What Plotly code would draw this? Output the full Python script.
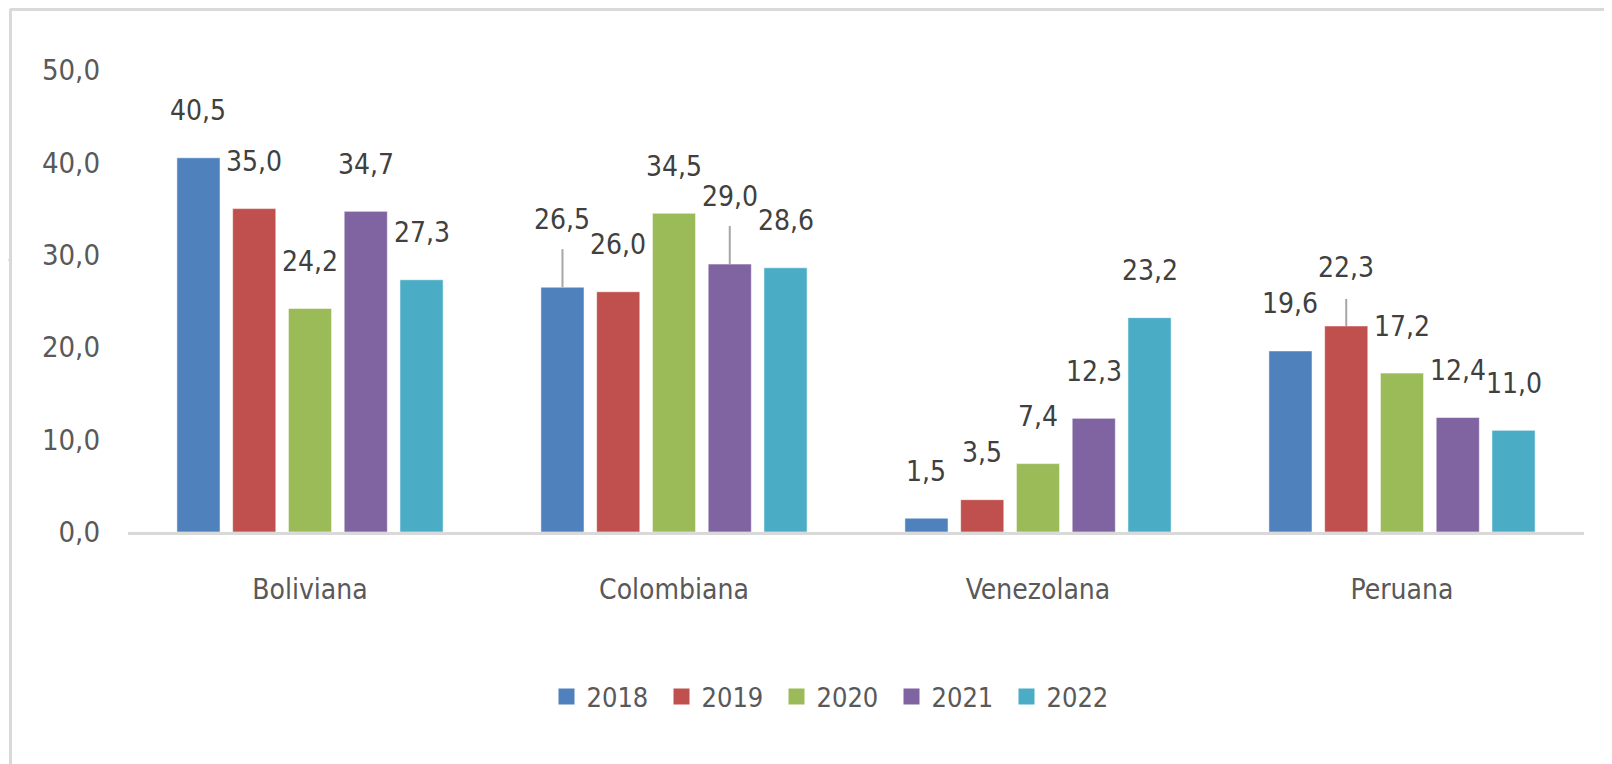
import plotly.graph_objects as go

# ---------------- data ----------------
categories = ["Boliviana", "Colombiana", "Venezolana", "Peruana"]
years = ["2018", "2019", "2020", "2021", "2022"]
v2018 = [40.5, 26.5, 1.5, 19.6]
v2019 = [35.0, 26.0, 3.5, 22.3]
v2020 = [24.2, 34.5, 7.4, 17.2]
v2021 = [34.7, 29.0, 12.3, 12.4]
v2022 = [27.3, 28.6, 23.2, 11.0]
series = [v2018, v2019, v2020, v2021, v2022]
y_tick_vals = [0, 10, 20, 30, 40, 50]
y_tick_text = ["0,0", "10,0", "20,0", "30,0", "40,0", "50,0"]

# ---------------- styles ----------------
colors = ["#4F81BD", "#C0504D", "#9BBB59", "#8064A2", "#4BACC6"]
FONT = "'Liberation Sans Narrow', 'Arial Narrow', 'DejaVu Sans Condensed', 'Roboto Condensed', 'Liberation Sans', sans-serif"
OFF = 8                               # page body margin
W, H = 1612 - OFF, 764 - OFF
ML, MR, MT, MB = 128 - OFF, 28, 70 - OFF, 232
BARGAP = 0.234
BARGROUPGAP = 0.226
LABEL_LIFT = 47                      # px, label centre above bar top
lift_override = {(1, 0): 68, (1, 3): 68, (3, 1): 58}   # (category, series)
leader_len = {(1, 0): 38, (1, 3): 38, (3, 1): 27}      # px leader lines

PW = W - ML - MR
PH = H - MT - MB


def px_x(px):   # page pixel -> paper fraction
    return (px - OFF - ML) / PW


def px_y(py):
    return (H - MB - (py - OFF)) / PH


fig = go.Figure()
for j, (yr, vals) in enumerate(zip(years, series)):
    fig.add_trace(go.Bar(
        x=categories, y=vals, name=yr, legendgroup=yr, showlegend=False,
        marker=dict(color=colors[j], line=dict(color="rgba(255,255,255,0.55)", width=1)),
        hoverinfo="x+y+name",
    ))
    # legend entry (larger square swatch)
    fig.add_trace(go.Scatter(
        x=[None], y=[None], name=yr, legendgroup=yr, mode="markers",
        marker=dict(symbol="square", size=20, color=colors[j]),
    ))

slot = (1 - BARGAP) / len(years)
annotations = []
shapes = []
for j, vals in enumerate(series):
    for i, v in enumerate(vals):
        xpos = i + (j - (len(years) - 1) / 2) * slot
        lift = lift_override.get((i, j), LABEL_LIFT)
        annotations.append(dict(
            x=xpos, y=v, xref="x", yref="y", showarrow=False,
            text=f"{v:.1f}".replace(".", ","), yshift=lift,
            font=dict(family=FONT, size=28, color="#404040"),
        ))
        if (i, j) in leader_len:
            shapes.append(dict(
                type="line", xref="x", yref="y", ysizemode="pixel", yanchor=v,
                x0=xpos, x1=xpos, y0=0, y1=leader_len[(i, j)],
                line=dict(color="#A6A6A6", width=2),
            ))

# chart frame (top and left edges) and faint background arcs
frame_col = "#D9D9D9"
shapes += [
    dict(type="line", xref="paper", yref="paper", x0=px_x(10), x1=px_x(1620),
         y0=px_y(9.5), y1=px_y(9.5), line=dict(color=frame_col, width=3), layer="below"),
    dict(type="line", xref="paper", yref="paper", x0=px_x(10.5), x1=px_x(10.5),
         y0=px_y(9), y1=px_y(770), line=dict(color=frame_col, width=3), layer="below"),
    dict(type="line", xref="paper", yref="paper", x0=px_x(669), x1=px_x(673),
         y0=px_y(0), y1=px_y(8), line=dict(color="#E2E2E2", width=1.5), layer="below"),
    dict(type="line", xref="paper", yref="paper", x0=px_x(0), x1=px_x(9),
         y0=px_y(247), y1=px_y(261), line=dict(color="#E2E2E2", width=1.5), layer="below"),
]

fig.update_layout(
    width=W, height=H,
    margin=dict(l=ML, r=MR, t=MT, b=MB, pad=0),
    paper_bgcolor="white", plot_bgcolor="white",
    barmode="group", bargap=BARGAP, bargroupgap=BARGROUPGAP,
    font=dict(family=FONT, color="#595959"),
    xaxis=dict(
        type="category", showgrid=False, zeroline=False,
        showline=True, linecolor="#D9D9D9", linewidth=3,
        ticks="", ticklabelstandoff=30,
        tickfont=dict(family=FONT, size=28, color="#595959"),
    ),
    yaxis=dict(
        range=[0, 50], tickvals=y_tick_vals, ticktext=y_tick_text,
        showgrid=False, zeroline=False, showline=False, ticks="",
        ticklabelstandoff=27,
        tickfont=dict(family=FONT, size=29, color="#595959"),
    ),
    legend=dict(
        orientation="h", x=px_x(834), xanchor="center", y=px_y(697), yanchor="middle",
        font=dict(family=FONT, size=27, color="#595959"),
        entrywidth=70, itemsizing="trace", bgcolor="rgba(0,0,0,0)",
    ),
    annotations=annotations,
    shapes=shapes,
    showlegend=True,
)

fig.write_html("out.html")
